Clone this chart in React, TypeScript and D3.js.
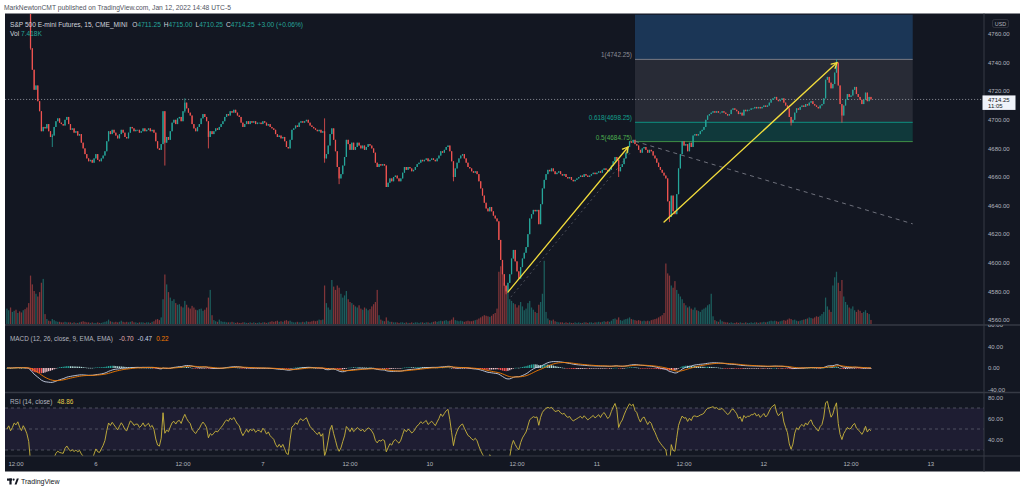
import React from 'react';
import * as d3 from 'd3';

// ---------- DATA (15-min ES futures, bar index 0 = Jan 5 10:45 ET) ----------
const firstOpen = 4791;
const closesJan5 = [4792, 4794, 4791, 4793, 4796, 4795, 4797, 4794, 4792, 4795, 4793, 4790, 4784, 4750, 4735, 4721, 4724, 4713, 4706, 4692, 4695, 4694, 4697, 4692, 4688];
const closesJan6 = [4689, 4695, 4699, 4701, 4698, 4697, 4696, 4700, 4702, 4697,
  4693, 4694, 4691, 4692, 4689, 4690, 4684, 4680, 4676, 4673,
  4671, 4672, 4670, 4673, 4676, 4672, 4671, 4673, 4675, 4678,
  4685, 4692, 4690, 4693, 4691, 4689, 4687, 4690, 4693, 4691,
  4688, 4687, 4691, 4695, 4694, 4692, 4693, 4693, 4691, 4692,
  4694, 4692, 4693, 4694, 4692, 4693, 4691, 4685, 4680, 4679,
  4683, 4706, 4684, 4688, 4686, 4692, 4698, 4700, 4697, 4701,
  4702, 4699, 4706, 4712, 4708, 4705, 4703, 4697, 4694, 4692,
  4695, 4697, 4701, 4704, 4702, 4699, 4688, 4692, 4690, 4692,
  4694, 4693];
const closesJan7 = [4695, 4697, 4699, 4702, 4704, 4703, 4706, 4705, 4707, 4705,
  4703, 4702, 4698, 4695, 4697, 4699, 4697, 4699, 4698, 4699,
  4697, 4698, 4698, 4697, 4699, 4698, 4696, 4697, 4695, 4694,
  4693, 4690, 4688, 4689, 4687, 4688, 4685, 4681, 4680, 4686,
  4693, 4694, 4696, 4695, 4698, 4699, 4698, 4699, 4700, 4698,
  4696, 4695, 4694, 4693, 4692, 4693, 4691, 4692, 4673, 4676,
  4682, 4690, 4694, 4686, 4678, 4667, 4659, 4662, 4668, 4674,
  4686, 4683, 4679, 4684, 4679, 4681, 4684, 4682, 4680, 4682,
  4679, 4681, 4683, 4682, 4680, 4677, 4670, 4667, 4669, 4668,
  4669, 4668];
const closesJan10 = [4653, 4656, 4659, 4657, 4660, 4661, 4659, 4657, 4659, 4663,
  4667, 4665, 4667, 4666, 4664, 4665, 4667, 4669, 4670, 4672,
  4671, 4672, 4673, 4671, 4672, 4673, 4672, 4671, 4673, 4675,
  4678, 4677, 4679, 4681, 4682, 4678, 4671, 4660, 4666, 4670,
  4673, 4675, 4676, 4673, 4670, 4667, 4666, 4664, 4663, 4664,
  4662, 4657, 4652, 4647, 4642, 4638, 4636, 4639, 4636, 4633,
  4631, 4629, 4616, 4602, 4592, 4584, 4580, 4586, 4592, 4603,
  4609, 4601, 4594, 4589, 4597, 4603, 4607, 4611, 4620, 4631,
  4634, 4637, 4636, 4637, 4627, 4641, 4652, 4658, 4662, 4665,
  4664, 4666];
const closesJan11 = [4664, 4662, 4663, 4664, 4662, 4661, 4662, 4660, 4659, 4660,
  4658, 4657, 4658, 4659, 4660, 4661, 4660, 4662, 4661, 4660,
  4661, 4662, 4663, 4662, 4663, 4664, 4663, 4665, 4666, 4665,
  4664, 4665, 4668, 4671, 4674, 4672, 4664, 4667, 4669, 4673,
  4677, 4681, 4685, 4684, 4686, 4683, 4682, 4679, 4677, 4680,
  4681, 4679, 4677, 4679, 4678, 4675, 4673, 4670, 4667, 4665,
  4663, 4661, 4659, 4643, 4632, 4647, 4636, 4634, 4648, 4666,
  4676, 4685, 4682, 4683, 4678, 4684, 4681, 4689, 4690, 4689,
  4690, 4692, 4693, 4695, 4700, 4703, 4704, 4705, 4706, 4705,
  4706, 4705];
const closesJan12 = [4705, 4706, 4705, 4704, 4703, 4704, 4707, 4708, 4707, 4706,
  4704, 4705, 4703, 4707, 4706, 4707, 4707, 4708, 4708, 4709,
  4708, 4709, 4708, 4709, 4710, 4709, 4710, 4712, 4714, 4715,
  4716, 4714, 4713, 4714, 4715, 4712, 4710, 4708, 4702, 4698,
  4700, 4705, 4708, 4707, 4709, 4710, 4709, 4711, 4710, 4712,
  4713, 4711, 4710, 4709, 4708, 4710, 4711, 4715, 4728, 4730,
  4726, 4722, 4725, 4733, 4740, 4724, 4711, 4703, 4710, 4714,
  4718, 4716, 4717, 4721, 4723, 4718, 4716, 4714, 4711, 4714,
  4719, 4713, 4716, 4714.25];

// notable wicks: [bar index, high, low]
const wicks: [number, number, number][] = [
  [13, 4786, 4749], [25, 4690, 4681], [87, 4706, 4668], [98, 4715, 4705], [111, 4699, 4680],
  [175, 4701, 4670], [183, 4667, 4655], [246, 4671, 4657], [275, 4584, 4578], [337, 4672, 4660],
  [365, 4643, 4628.5], [432, 4702, 4696], [457, 4742.25, 4733], [460, 4711, 4698],
];

// volume in thousands of contracts
const volJan5 = [28, 25, 30, 22, 24, 26, 20, 23, 21, 25, 27, 30, 38, 88, 72, 60, 55, 50, 58, 75, 82, 18, 9, 6, 5];
const volJan6 = [9, 7, 5, 4, 4, 3, 3, 4, 3, 3, 3, 2, 3, 2, 2, 3, 4, 5, 4, 3, 3, 2, 3, 2, 2, 3, 2, 2, 3, 4,
  5, 8, 5, 4, 3, 4, 3, 4, 6, 4, 3, 4, 3, 4, 5, 3, 3, 2, 3, 3, 3, 2, 3, 3, 2, 4, 5, 8, 9, 7,
  12, 45, 90, 72, 58, 48, 42, 45, 38, 35, 36, 32, 30, 42, 35, 30, 28, 33, 30, 26,
  25, 27, 28, 24, 26, 30, 48, 62, 16, 7, 5, 4];
const volJan7 = [8, 5, 4, 4, 3, 3, 3, 4, 3, 2, 3, 2, 2, 3, 3, 2, 2, 3, 2, 3, 2, 2, 3, 2, 3, 3, 2, 3, 4, 5,
  4, 5, 6, 4, 5, 4, 6, 7, 5, 6, 4, 3, 3, 4, 3, 3, 4, 3, 5, 4, 4, 5, 6, 5, 6, 8, 7, 8, 70, 38,
  30, 26, 80, 68, 62, 70, 66, 55, 48, 52, 60, 45, 40, 38, 35, 32, 30, 34, 28, 26,
  30, 28, 25, 27, 32, 36, 40, 62, 16, 8, 6, 5];
const volJan10 = [12, 6, 4, 4, 3, 3, 3, 2, 3, 3, 2, 3, 2, 2, 3, 2, 3, 3, 2, 3, 3, 2, 3, 3, 2, 3, 4, 5, 4, 5,
  6, 5, 6, 7, 5, 6, 8, 12, 7, 6, 5, 6, 5, 4, 5, 6, 5, 5, 6, 7, 8, 10, 12, 14, 16, 15, 14, 13, 15, 18,
  20, 28, 95, 105, 110, 75, 70, 60, 45, 42, 38, 36, 30, 34, 40, 32, 25, 28, 38, 42,
  30, 26, 22, 20, 35, 40, 55, 115, 22, 10, 7, 6];
const volJan11 = [8, 5, 4, 3, 3, 3, 2, 3, 2, 3, 2, 2, 3, 2, 3, 2, 2, 3, 3, 2, 3, 3, 2, 3, 3, 4, 3, 4, 5, 4,
  5, 4, 6, 9, 10, 8, 12, 7, 6, 8, 9, 10, 12, 9, 8, 7, 6, 7, 6, 5, 6, 5, 6, 5, 7, 8, 9, 10, 12, 14,
  16, 20, 110, 92, 88, 70, 66, 78, 62, 55, 50, 45, 38, 34, 30, 32, 28, 26, 30, 25,
  24, 22, 26, 28, 30, 34, 36, 55, 14, 7, 5, 4];
const volJan12 = [8, 5, 4, 3, 3, 2, 3, 2, 2, 3, 2, 3, 2, 2, 3, 2, 2, 3, 2, 3, 3, 2, 3, 3, 4, 3, 4, 5, 6, 5,
  6, 5, 4, 5, 6, 7, 6, 8, 10, 9, 7, 8, 6, 5, 6, 7, 8, 9, 10, 12, 11, 10, 12, 14, 13, 15, 18, 22, 48, 32,
  26, 22, 70, 85, 95, 75, 60, 80, 50, 40, 35, 30, 28, 32, 25, 22, 26, 24, 20, 22, 25, 20, 18, 7.418];

const priceTicks = [4560, 4580, 4600, 4620, 4640, 4660, 4680, 4700, 4720, 4740, 4760];
const timeTickIdx = [5, 49, 97, 141, 189, 233, 281, 325, 373, 417, 465, 509];
const timeTickLabels = ['12:00', '6', '12:00', '7', '12:00', '10', '12:00', '11', '12:00', '12', '12:00', '13'];
const macdTicks = [80, 40, 0, -40];
const rsiTicks = [80, 60, 40];
const rsiBands = [70, 50, 30];

const fibLevels = [1.272, 1, 0.618, 0.5];
const fibPrices = [4773.5, 4742.25, 4698.25, 4684.75];
const fibLabels = ['', '1(4742.25)', '0.618(4698.25)', '0.5(4684.75)'];
const fibSpan = [346, 499];
const fibTrend: [number, number][] = [[346, 4685], [499, 4627.25]];
const arrowUp1: [number, number][] = [[276, 4579.5], [342.2, 4681]];
const arrowUp2: [number, number][] = [[362, 4628.5], [457.3, 4740]];
const guideDash: [number, number][] = [[277.6, 4576], [343.5, 4677]];
const lastPrice = 4714.25;

const FONT = '"Liberation Sans", Arial, sans-serif';
const UP = '#26a69a';
const DOWN = '#ef5350';
const AXIS_TXT = '#b2b5be';
const SEP = '#363a45';

function ema(arr: number[], len: number) {
  const k = 2 / (len + 1);
  let e = arr[0];
  return arr.map((v, i) => (i === 0 ? e : (e = v * k + e * (1 - k))));
}

export default function App() {
  const closes = [...closesJan5, ...closesJan6, ...closesJan7, ...closesJan10, ...closesJan11, ...closesJan12];
  const volumes = [...volJan5, ...volJan6, ...volJan7, ...volJan10, ...volJan11, ...volJan12];
  const n = closes.length;
  const opens = closes.map((c, i) => (i === 0 ? firstOpen : closes[i - 1]));
  const wm = new Map(wicks.map((w) => [w[0], w]));
  const highs = closes.map((c, i) => Math.max(c, opens[i], wm.has(i) ? wm.get(i)![1] : -Infinity));
  const lows = closes.map((c, i) => Math.min(c, opens[i], wm.has(i) ? wm.get(i)![2] : Infinity));

  const x = d3.scaleLinear().domain([5, 465]).range([16, 851]);
  const y = d3.scaleLinear().domain([4560, 4760]).range([320, 34]);
  const yVol = d3.scaleLinear().domain([0, 120]).range([324, 258]);
  const yMacd = d3.scaleLinear().domain([-40, 40]).range([389.5, 346.5]);
  const yRsi = d3.scaleLinear().domain([30, 70]).range([450, 408]);

  // MACD
  const e12 = ema(closes, 12);
  const e26 = ema(closes, 26);
  const macd = closes.map((_, i) => e12[i] - e26[i]);
  const signal = ema(macd, 9);
  const hist = macd.map((m, i) => m - signal[i]);

  // RSI (Wilder)
  const rsi: number[] = [50];
  let ag = 1.2, al = 1.2;
  for (let i = 1; i < n; i++) {
    const ch = closes[i] - closes[i - 1];
    ag = (ag * 13 + Math.max(ch, 0)) / 14;
    al = (al * 13 + Math.max(-ch, 0)) / 14;
    rsi.push(al === 0 ? 100 : 100 - 100 / (1 + ag / al));
  }

  const idx = d3.range(n);
  const bw = 1.25;
  const lineMacd = d3.line<number>().x((i) => x(i)).y((i) => yMacd(macd[i]));
  const lineSig = d3.line<number>().x((i) => x(i)).y((i) => yMacd(signal[i]));
  const lineRsi = d3.line<number>().x((i) => x(i)).y((i) => yRsi(rsi[i]));

  const arrow = (pts: [number, number][], key: string) => {
    const [s, e] = pts;
    const sx = x(s[0]), sy = y(s[1]), ex = x(e[0]), ey = y(e[1]);
    const ang = Math.atan2(ey - sy, ex - sx);
    const L = 6;
    const a1 = ang + Math.PI - 0.5, a2 = ang + Math.PI + 0.5;
    return (
      <g key={key} stroke="#f2dc3c" strokeWidth={1.3} fill="none" strokeLinecap="round">
        <line x1={sx} y1={sy} x2={ex} y2={ey} />
        <polyline points={`${ex + L * Math.cos(a1)},${ey + L * Math.sin(a1)} ${ex},${ey} ${ex + L * Math.cos(a2)},${ey + L * Math.sin(a2)}`} />
      </g>
    );
  };

  const fibX0 = x(fibSpan[0]), fibX1 = x(fibSpan[1]);
  const fibFill = ['#1b3656', '#282b36', '#10393b'];
  const fibLine = ['#1b3656', '#787b86', '#0e9383', '#3f8f46'];
  const fibLabelColor = ['', '#8a8d97', '#13a08e', '#4caf50'];

  return (
    <div style={{ position: 'absolute', left: 0, top: 0, width: 1024, height: 491, background: '#fff' }}>
      <svg width={1024} height={491} style={{ display: 'block', fontFamily: FONT }}>
        <defs>
          <clipPath id="mainClip"><rect x={5} y={14} width={979} height={311} /></clipPath>
          <clipPath id="macdClip"><rect x={5} y={325} width={979} height={67} /></clipPath>
          <clipPath id="rsiClip"><rect x={5} y={393} width={979} height={63} /></clipPath>
          <clipPath id="macdAxisClip"><rect x={984} y={325} width={40} height={70} /></clipPath>
        </defs>
        <rect x={0} y={0} width={1024} height={491} fill="#ffffff" />
        <text x={4} y={10} fontSize={6.7} fill="#50535e">MarkNewtonCMT published on TradingView.com, Jan 12, 2022 14:48 UTC-5</text>
        <rect x={5} y={13.5} width={1015} height={458} fill="#131722" />

        {/* main pane */}
        <g clipPath="url(#mainClip)">
          {fibFill.map((c, k) => (
            <rect key={'ff' + k} x={fibX0} width={fibX1 - fibX0} y={y(fibPrices[k])} height={y(fibPrices[k + 1]) - y(fibPrices[k])} fill={c} />
          ))}
          {idx.map((i) => (
            <rect key={'v' + i} x={x(i) - bw / 2} width={bw} y={yVol(volumes[i])} height={324 - yVol(volumes[i])}
              fill={closes[i] >= opens[i] ? 'rgba(38,166,154,0.5)' : 'rgba(239,83,80,0.5)'} />
          ))}
          {fibLevels.map((lv, k) => (k === 0 ? null : (
            <line key={'fl' + k} x1={fibX0} x2={fibX1} y1={y(fibPrices[k])} y2={y(fibPrices[k])} stroke={fibLine[k]} strokeWidth={1} />
          )))}
          <line x1={5} x2={984} y1={y(lastPrice)} y2={y(lastPrice)} stroke="#9598a1" strokeWidth={0.8} strokeDasharray="1.2,1.8" />
          {idx.map((i) => {
            const up = closes[i] >= opens[i];
            const col = up ? UP : DOWN;
            const top = y(Math.max(opens[i], closes[i]));
            const bot = y(Math.min(opens[i], closes[i]));
            return (
              <g key={'c' + i}>
                <line x1={x(i)} x2={x(i)} y1={y(highs[i])} y2={y(lows[i])} stroke={col} strokeWidth={0.8} />
                <rect x={x(i) - bw / 2} width={bw} y={top} height={Math.max(0.8, bot - top)} fill={col} />
              </g>
            );
          })}
          <line x1={x(fibTrend[0][0])} y1={y(fibTrend[0][1])} x2={x(fibTrend[1][0])} y2={y(fibTrend[1][1])}
            stroke="#787b86" strokeWidth={0.9} strokeDasharray="4,4" />
          <line x1={x(guideDash[0][0])} y1={y(guideDash[0][1])} x2={x(guideDash[1][0])} y2={y(guideDash[1][1])}
            stroke="#787b86" strokeWidth={0.8} strokeDasharray="2,3" opacity={0.7} />
          {arrow(arrowUp1, 'a1')}
          {arrow(arrowUp2, 'a2')}
        </g>
        {fibLabels.map((t, k) => (t ? (
          <text key={'ft' + k} x={fibX0 - 3} y={y(fibPrices[k]) - 2} fontSize={6.4} textAnchor="end" fill={fibLabelColor[k]}>{t}</text>
        ) : null))}

        {/* header */}
        <text x={10} y={26.5} fontSize={6.6} fill="#d1d4dc">
          <tspan>S&amp;P 500 E-mini Futures, 15, CME_MINI </tspan>
          <tspan dx={3}>O</tspan><tspan fill={UP}>4711.25</tspan>
          <tspan dx={3}>H</tspan><tspan fill={UP}>4715.00</tspan>
          <tspan dx={3}>L</tspan><tspan fill={UP}>4710.25</tspan>
          <tspan dx={3}>C</tspan><tspan fill={UP}>4714.25</tspan>
          <tspan dx={3} fill={UP}>+3.00 (+0.06%)</tspan>
        </text>
        <text x={10} y={35.5} fontSize={6.6} fill="#d1d4dc">Vol <tspan fill={UP}>7.418K</tspan></text>

        {/* MACD pane */}
        <g clipPath="url(#macdClip)">
          {idx.map((i) => {
            const h = hist[i];
            const prev = i > 0 ? hist[i - 1] : h;
            const col = h >= 0 ? (h >= prev ? '#26a69a' : '#b2dfdb') : (h < prev ? '#ff5252' : '#ffcdd2');
            const y0 = yMacd(0), y1 = yMacd(h);
            return <rect key={'h' + i} x={x(i) - bw / 2} width={bw} y={Math.min(y0, y1)} height={Math.max(0.6, Math.abs(y1 - y0))} fill={col} />;
          })}
          <path d={lineMacd(idx) || ''} fill="none" stroke="#c9d3e6" strokeWidth={0.9} />
          <path d={lineSig(idx) || ''} fill="none" stroke="#f57c00" strokeWidth={0.9} />
        </g>
        <text x={10} y={341} fontSize={6.4} fill="#b2b5be">
          MACD (12, 26, close, 9, EMA, EMA)
          <tspan dx={6} fill="#e8b4b4">-0.70</tspan>
          <tspan dx={4} fill="#c9d3e6">-0.47</tspan>
          <tspan dx={4} fill="#f57c00">0.22</tspan>
        </text>

        {/* RSI pane */}
        <rect x={5} y={yRsi(70)} width={979} height={yRsi(30) - yRsi(70)} fill="#7e57c2" opacity={0.1} />
        {rsiBands.map((b) => (
          <line key={'rb' + b} x1={5} x2={984} y1={yRsi(b)} y2={yRsi(b)} stroke="#787b86" strokeWidth={0.7} strokeDasharray="3,3" opacity={0.8} />
        ))}
        <g clipPath="url(#rsiClip)">
          <path d={lineRsi(idx) || ''} fill="none" stroke="#cbb53c" strokeWidth={0.9} />
        </g>
        <text x={10} y={404} fontSize={6.4} fill="#b2b5be">RSI (14, close)<tspan dx={5} fill="#e3cc4a">48.86</tspan></text>

        {/* separators */}
        <line x1={5} x2={1020} y1={325} y2={325} stroke={SEP} strokeWidth={1.4} />
        <line x1={5} x2={1020} y1={392.5} y2={392.5} stroke={SEP} strokeWidth={1.4} />
        <line x1={5} x2={1020} y1={456} y2={456} stroke={SEP} strokeWidth={1} />
        <line x1={984} x2={984} y1={13.5} y2={471.5} stroke={SEP} strokeWidth={1} />

        {/* price axis */}
        {priceTicks.map((p) => (
          <text key={'pt' + p} x={988} y={y(p) + 2.1} fontSize={6} fill={AXIS_TXT}>{p.toFixed(2)}</text>
        ))}
        <rect x={992.5} y={19.5} width={16} height={8} rx={2} fill="#131722" stroke="#434651" strokeWidth={0.6} />
        <text x={1000.5} y={25.6} fontSize={5.4} textAnchor="middle" fill={AXIS_TXT}>USD</text>
        <rect x={982.5} y={y(lastPrice) - 4} width={33} height={14.5} fill="#f0f3fa" />
        <text x={988} y={y(lastPrice) + 2.3} fontSize={6} fill="#131722">{lastPrice.toFixed(2)}</text>
        <text x={988} y={y(lastPrice) + 8.7} fontSize={6} fill="#131722">11:05</text>
        <g clipPath="url(#macdAxisClip)">
          {macdTicks.map((m) => (
            <text key={'mt' + m} x={988} y={yMacd(m) + 2.1} fontSize={6} fill={AXIS_TXT}>{m.toFixed(2)}</text>
          ))}
        </g>
        {rsiTicks.map((r) => (
          <text key={'rt' + r} x={988} y={yRsi(r) + 2.1} fontSize={6} fill={AXIS_TXT}>{r.toFixed(2)}</text>
        ))}

        {/* time axis */}
        {timeTickIdx.map((t, k) => (
          <text key={'tt' + k} x={x(t)} y={465.5} fontSize={6} textAnchor="middle" fill={AXIS_TXT}>{timeTickLabels[k]}</text>
        ))}

        {/* footer logo */}
        <g fill="#131722">
          <rect x={7} y={478.5} width={5} height={2.2} />
          <rect x={9.4} y={478.5} width={2.2} height={6} />
          <circle cx={13.6} cy={479.6} r={1.1} />
          <polygon points="14.6,484.5 16.8,478.5 18.8,478.5 16.6,484.5" />
        </g>
        <text x={21} y={484.2} fontSize={7} fill="#131722">TradingView</text>
      </svg>
    </div>
  );
}
